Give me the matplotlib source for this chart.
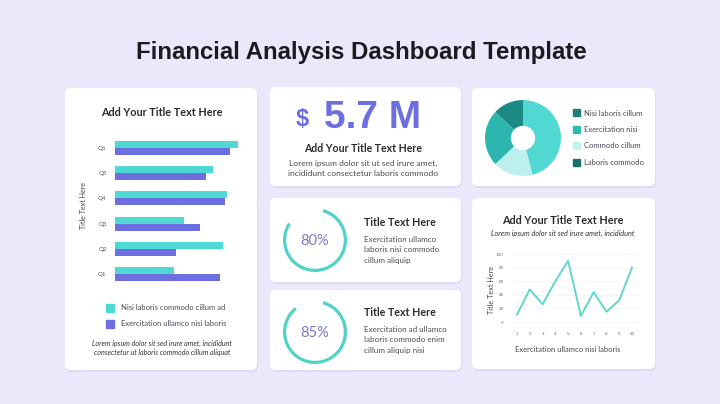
import matplotlib
matplotlib.use("Agg")
import matplotlib.pyplot as plt
from matplotlib.patches import FancyBboxPatch, Rectangle

W, H = 720, 404

# data
quarters = ['Q1', 'Q2', 'Q3', 'Q4', 'Q5', 'Q6']
series_a = [48, 88, 56, 91, 80, 100]
series_b = [86, 50, 69, 90, 74, 94]
bar_legend = ['Nisi laboris commodo cillum ad', 'Exercitation ullamco nisi laboris']

pie_labels = ['Nisi laboris cillum', 'Exercitation nisi', 'Commodo cillum', 'Laboris commodo']
pie_values = [46, 17, 24, 13]

line_x = [1, 2, 3, 4, 5, 6, 7, 8, 9, 10]
line_y = [11, 48, 26, 60, 90, 9, 44, 15, 32, 80]

gauge_values = [80, 85]
kpi_text = '5.7 M'

bg = '#e9e9fb'
cyan = '#4fd9d5'
purple = '#6d6ee0'
dark = '#2b2b33'
body = '#4a4a55'

fig = plt.figure(figsize=(7.2, 4.04), dpi=100, facecolor=bg)

# background axes in pixel coordinates
base = fig.add_axes([0, 0, 1, 1])
base.set_xlim(0, W)
base.set_ylim(H, 0)
base.axis('off')


def card(x0, y0, x1, y1):
    base.add_patch(FancyBboxPatch((x0 + 1, y0 + 2), x1 - x0, y1 - y0,
                                  boxstyle='round,pad=0,rounding_size=6',
                                  fc='#dcdcf2', ec='none'))
    base.add_patch(FancyBboxPatch((x0, y0), x1 - x0, y1 - y0,
                                  boxstyle='round,pad=0,rounding_size=6',
                                  fc='white', ec='none'))


def rect(x0, y0, x1, y1):
    return [x0 / W, 1 - y1 / H, (x1 - x0) / W, (y1 - y0) / H]


title_font = 'Liberation Sans'
font = 'Lato'

base.text(361, 52, 'Financial Analysis Dashboard Template', ha='center', va='center',
          fontsize=17.3, fontweight='bold', color='#1a1a1f', family=title_font)

card(65, 88, 257, 370)
card(270, 87, 461, 186)
card(472, 88, 655, 186)
card(270, 198, 461, 282)
card(270, 290, 461, 370)
card(472, 198, 655, 369)

# ---- left card: bar chart
base.text(162, 112, 'Add Your Title Text Here', ha='center', va='center',
          fontsize=7.8, fontweight='bold', color=dark, family=font)
ax = fig.add_axes(rect(115, 135, 240, 287))
pos = list(range(len(quarters)))
ax.barh([p + 0.14 for p in pos], series_a, height=0.28, color=cyan)
ax.barh([p - 0.14 for p in pos], series_b, height=0.28, color=purple)
ax.set_ylim(-0.5, 5.5)
ax.set_xlim(0, 102)
ax.set_yticks(pos)
ax.set_yticklabels(quarters, fontsize=4.4, color='#555555', family=font)
ax.set_xticks([])
ax.tick_params(length=0, pad=6)
for s in ax.spines.values():
    s.set_visible(False)
ax.set_facecolor('none')
base.text(84, 205, 'Title Text Here', rotation=90, ha='center', va='center',
          fontsize=5.1, color='#444444', family=font)
for i, (lab, c) in enumerate(zip(bar_legend, [cyan, purple])):
    y = 308 + i * 16
    base.add_patch(Rectangle((106, y - 4), 8, 8, color=c))
    base.text(121, y, lab, ha='left', va='center', fontsize=5.5, color=body, family=font)
base.text(162, 343, 'Lorem ipsum dolor sit sed irure amet, incididunt', ha='center', va='center',
          fontsize=5.1, style='italic', color='#333333', family=font)
base.text(162, 352, 'consectetur ut laboris commodo cillum aliquat', ha='center', va='center',
          fontsize=5.1, style='italic', color='#333333', family=font)

# ---- KPI card
base.text(302, 120, '$', ha='center', va='center', fontsize=17, fontweight='bold',
          color=purple, family=title_font)
base.text(373, 118, kpi_text, ha='center', va='center', fontsize=28, fontweight='bold',
          color=purple, family=title_font)
base.text(363, 148, 'Add Your Title Text Here', ha='center', va='center',
          fontsize=7.6, fontweight='bold', color=dark, family=font)
base.text(363, 163, 'Lorem ipsum dolor sit ut sed irure amet,', ha='center', va='center',
          fontsize=6.1, color=body, family=font)
base.text(363, 174, 'incididunt consectetur laboris commodo', ha='center', va='center',
          fontsize=6.1, color=body, family=font)

# ---- donut
pie_colors = ['#52d8d3', '#bcefed', '#2cb6af', '#1c8a84']
legend_colors = ['#1f7f7a', '#2cbcb4', '#c4f2ef', '#1d6f6a']
ax = fig.add_axes(rect(485, 100, 561, 176))
ax.pie(pie_values, colors=pie_colors, startangle=90, counterclock=False,
       wedgeprops=dict(width=0.68, edgecolor='none'))
ax.set_xlim(-1, 1)
ax.set_ylim(-1, 1)
ax.set_aspect('equal')
for i, (lab, c) in enumerate(zip(pie_labels, legend_colors)):
    y = 113 + i * 16.5
    base.add_patch(Rectangle((573, y - 4), 7, 7, color=c))
    base.text(584, y, lab, ha='left', va='center', fontsize=5.5, color=body, family=font)

# ---- gauges
gauge_text = [['Exercitation ullamco', 'laboris nisi commodo', 'cillum aliquip'],
              ['Exercitation ad ullamco', 'laboris commodo enim', 'cillum aliquip nisi']]
for k, (val, lines) in enumerate(zip(gauge_values, gauge_text)):
    cy = 240 + k * 92
    ax = fig.add_axes(rect(283, cy - 32, 347, cy + 32))
    ax.pie([val, 100 - val], colors=['#4fd3c9', 'none'], startangle=75, counterclock=False,
           wedgeprops=dict(width=0.1, edgecolor='none'))
    ax.set_xlim(-1, 1)
    ax.set_ylim(-1, 1)
    ax.set_aspect('equal')
    base.text(315, cy + 1, f'{val}%', ha='center', va='center', fontsize=10.5,
              color='#7b78c9', family=font)
    ty = 223 + k * 90
    base.text(364, ty, 'Title Text Here', ha='left', va='center', fontsize=7.7,
              fontweight='bold', color=dark, family=font)
    for j, ln in enumerate(lines):
        base.text(364, ty + 16 + j * 11, ln, ha='left', va='center', fontsize=5.8,
                  color=body, family=font)

# ---- line chart
base.text(563, 220, 'Add Your Title Text Here', ha='center', va='center',
          fontsize=7.8, fontweight='bold', color=dark, family=font)
base.text(563, 233, 'Lorem ipsum dolor sit sed irure amet, incididunt', ha='center', va='center',
          fontsize=5.2, style='italic', color='#333333', family=font)
ax = fig.add_axes(rect(510.6, 250.6, 638.4, 325.4))
ax.plot(line_x, line_y, color='#62d6ce', lw=1.4)
ax.set_xlim(0.5, 10.5)
ax.set_ylim(-5, 105)
ax.set_xticks(line_x)
ax.set_yticks([0, 20, 40, 60, 80, 100])
ax.tick_params(length=0, labelsize=3, labelcolor='#666666', pad=5)
ax.grid(axis='y', color='#f0f0f6', lw=0.5)
for s in ax.spines.values():
    s.set_visible(False)
ax.set_facecolor('none')
base.text(491, 290, 'Title Text Here', rotation=90, ha='center', va='center',
          fontsize=5.2, color='#444444', family=font)
base.text(568, 350, 'Exercitation ullamco nisi laboris', ha='center', va='center',
          fontsize=5.5, color=body, family=font)

fig.savefig('out.png', dpi=100, facecolor=bg)
